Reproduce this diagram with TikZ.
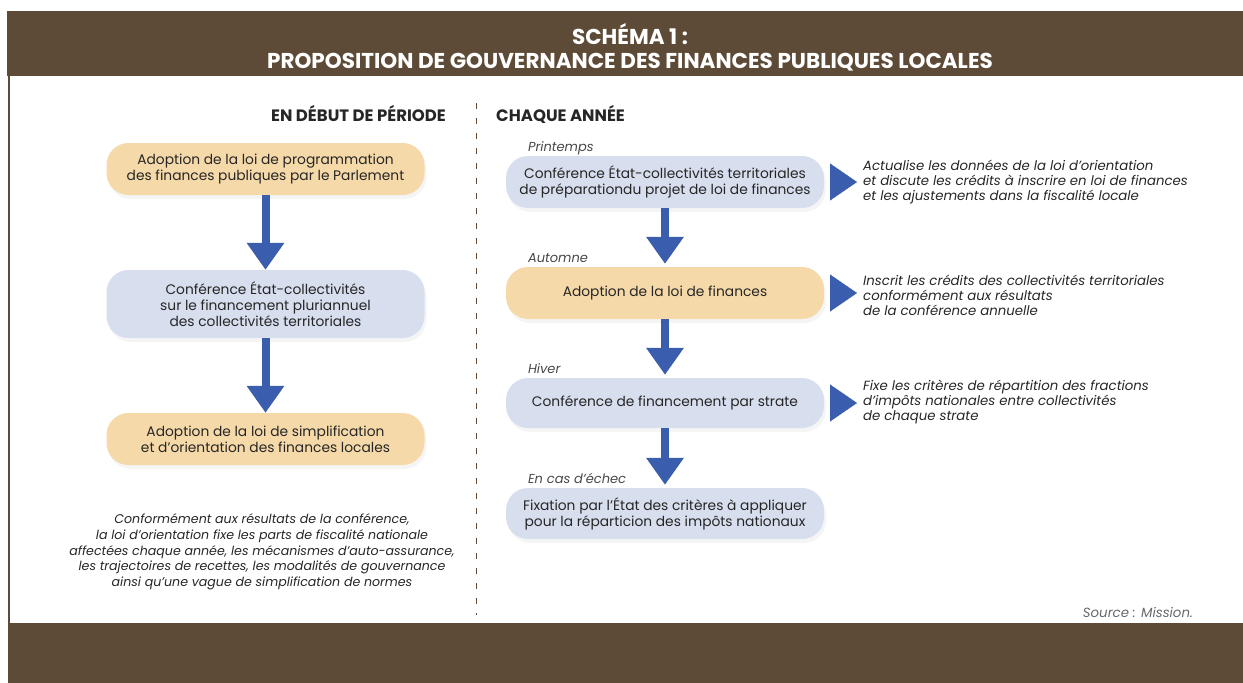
\documentclass[tikz,border=0pt]{standalone}
\usepackage{fontspec}
\setmainfont{Poppins}
\usetikzlibrary{arrows.meta,shadows,positioning}

\definecolor{brun}{HTML}{5E4B37}
\definecolor{peche}{HTML}{F6D9A8}
\definecolor{bleuclair}{HTML}{D7DEEE}
\definecolor{bleufleche}{HTML}{3A5DAD}
\definecolor{texte}{HTML}{262626}

\begin{document}
\begin{tikzpicture}[x=1pt,y=-1pt,
  etape/.style={rounded corners=22pt, minimum width=318pt, minimum height=52pt,
    align=center, inner sep=0pt, text=texte, font=\fontsize{13.8}{16}\selectfont,
    drop shadow={opacity=0.08,shadow xshift=2pt,shadow yshift=-4pt}},
  etapeor/.style={etape, fill=peche},
  etapebl/.style={etape, fill=bleuclair},
  grosfleche/.style={bleufleche, line width=8pt, shorten >=3pt,
    -{Triangle[width=36pt,length=27pt]}},
  petitefleche/.style={bleufleche, line width=0.4pt, shorten <=6pt, shorten >=6pt,
    -{Triangle[width=37pt,length=27pt]}},
  commentaire/.style={align=left, inner sep=0pt, text=texte,
    font=\fontsize{13.3}{15}\selectfont\itshape},
  saison/.style={inner sep=0pt, text=texte!85, font=\fontsize{13}{15}\selectfont\itshape},
  entete/.style={inner sep=0pt, text=texte, font=\fontsize{16.5}{18}\selectfont\bfseries}]

\useasboundingbox (0,0) rectangle (1243,683);

%frame
\fill[brun] (7,11) rectangle (1243,76);
\fill[brun] (8,623) rectangle (1243,683);
\draw[brun, line width=2.5pt] (9,76) -- (9,623);
%title
\node[align=center, text=white, font=\fontsize{21.5}{24}\selectfont\bfseries] (titre) at (630,47)
  {SCHÉMA 1 :\\PROPOSITION DE GOUVERNANCE DES FINANCES PUBLIQUES LOCALES};

%divider
\draw[brun, line width=1pt, dash pattern=on 6pt off 9pt] (476,103) -- (476,615);

%headers
\node[entete, anchor=east] (debut) at (446,114) {EN DÉBUT DE PÉRIODE};
\node[entete, anchor=west] (annee) at (496,114) {CHAQUE ANNÉE};

%left column
\node[etapeor] (lpfp) at (265.5,169) {Adoption de la loi de programmation\\des finances publiques par le Parlement};
\node[etapebl, minimum height=68pt] (confpluri) at (265.5,304) {Conférence État-collectivités\\sur le financement pluriannuel\\des collectivités territoriales};
\node[etapeor] (loiorient) at (265.5,439) {Adoption de la loi de simplification\\et d’orientation des finances locales};
\draw[grosfleche, shorten >=0pt] (lpfp.south) -- (confpluri.north);
\draw[grosfleche, shorten >=0pt] (confpluri.south) -- (loiorient.north);
%note
\node[align=center, inner sep=0pt, text=texte, font=\fontsize{12.6}{15.7}\selectfont\itshape] (note) at (262,552)
  {Conformément aux résultats de la conférence,\\la loi d’orientation fixe les parts de fiscalité nationale\\affectées chaque année, les mécanismes d’auto-assurance,\\les trajectoires de recettes, les modalités de gouvernance\\ainsi qu’une vague de simplification de normes};

%right column
\node[etapebl] (confplf) at (665,182) {Conférence État-collectivités territoriales\\de préparationdu projet de loi de finances};
\node[etapeor] (lf) at (665,293) {Adoption de la loi de finances};
\node[etapebl, minimum height=50pt] (confstrate) at (665,403) {Conférence de financement par strate};
\node[etapebl, minimum height=51pt] (fixation) at (665,513.5) {Fixation par l’État des critères à appliquer\\pour la réparticion des impôts nationaux};
\draw[grosfleche] (confplf.south) -- (lf.north);
\draw[grosfleche] (lf.south) -- (confstrate.north);
\draw[grosfleche] (confstrate.south) -- (fixation.north);
%seasons
\node[saison, anchor=base west] (printemps) at ([xshift=22pt,yshift=4pt]confplf.north west) {Printemps};
\node[saison, anchor=base west] (automne) at ([xshift=22pt,yshift=4pt]lf.north west) {Automne};
\node[saison, anchor=base west] (hiver) at ([xshift=22pt,yshift=4pt]confstrate.north west) {Hiver};
\node[saison, anchor=base west] (echec) at ([xshift=22pt,yshift=4pt]fixation.north west) {En cas d’échec};

%comments on the right
\node[commentaire, anchor=west] (actualise) at (863,182) {Actualise les données de la loi d’orientation\\et discute les crédits à inscrire en loi de finances\\et les ajustements dans la fiscalité locale};
\node[commentaire, anchor=west] (inscrit) at (863,295) {Inscrit les crédits des collectivités territoriales\\conformément aux résultats\\de la conférence annuelle};
\node[commentaire, anchor=west] (fixe) at (863,402) {Fixe les critères de répartition des fractions\\d’impôts nationales entre collectivités\\de chaque strate};
\draw[petitefleche] (confplf.east) -- (confplf.east -| actualise.west);
\draw[petitefleche] (lf.east) -- (lf.east -| inscrit.west);
\draw[petitefleche] (confstrate.east) -- (confstrate.east -| fixe.west);

%source
\node[anchor=east, inner sep=0pt, text=texte!70, font=\fontsize{13.3}{15}\selectfont\itshape] (source) at (1193,612) {Source : Mission.};

\end{tikzpicture}
\end{document}
